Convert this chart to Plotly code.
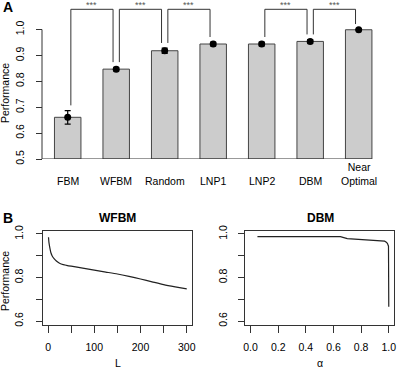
import plotly.graph_objects as go

W, H = 397, 368

# ---------------- data ----------------
categories = ["FBM", "WFBM", "Random", "LNP1", "LNP2", "DBM", "Near<br>Optimal"]
performance = [0.661, 0.847, 0.918, 0.944, 0.944, 0.954, 0.999]
errors = [0.026, 0.007, 0.010, 0.007, 0.007, 0.007, 0.002]
sig_pairs = [(0, 1), (1, 2), (2, 3), (4, 5), (5, 6)]
sig_labels = ["***", "***", "***", "***", "***"]
yticks_a = [0.5, 0.6, 0.7, 0.8, 0.9, 1.0]

wfbm_L = [1, 2, 4, 6, 9, 13, 18, 24, 30, 40, 50, 75, 100, 125, 150, 175, 200, 225, 250, 275, 300]
wfbm_perf = [0.985, 0.960, 0.935, 0.915, 0.899, 0.887, 0.876, 0.867, 0.861, 0.856, 0.852, 0.843,
             0.834, 0.825, 0.816, 0.805, 0.793, 0.780, 0.767, 0.757, 0.748]

dbm_alpha = [0.05, 0.1, 0.15, 0.2, 0.25, 0.3, 0.35, 0.4, 0.45, 0.5, 0.55, 0.6, 0.65, 0.7,
             0.75, 0.8, 0.85, 0.9, 0.95, 0.97, 0.98, 0.99, 0.998, 1.0]
dbm_perf = [0.988, 0.988, 0.988, 0.988, 0.988, 0.988, 0.988, 0.988, 0.988, 0.988, 0.988, 0.988,
            0.988, 0.979, 0.977, 0.976, 0.975, 0.973, 0.970, 0.967, 0.963, 0.957, 0.944, 0.665]

# ---------------- helpers ----------------
def px_x(p):
    return p / W

def px_y(p):
    return 1 - p / H

FONT = "Liberation Sans, Arial, sans-serif"
AX = "#333333"

fig = go.Figure()

# ---------------- Panel A ----------------
xs = list(range(len(categories)))
fig.add_trace(go.Bar(
    x=xs, y=[v - 0.5 for v in performance], base=0.5, width=0.546,
    marker=dict(color="#cccccc", line=dict(color="#444444", width=1)),
    xaxis="x", yaxis="y", showlegend=False, hoverinfo="skip"))
fig.add_trace(go.Scatter(
    x=xs, y=performance, mode="markers",
    marker=dict(color="black", size=7),
    error_y=dict(type="data", array=errors, color="black", thickness=1.2, width=3),
    xaxis="x", yaxis="y", showlegend=False))

shapes = []
annotations = []

# baseline and y axis line
shapes.append(dict(type="line", xref="x", yref="y", x0=-0.528, x1=6.273, y0=0.5, y1=0.5,
                   line=dict(color=AX, width=1)))
shapes.append(dict(type="line", xref="paper", yref="y", x0=px_x(42), x1=px_x(42),
                   y0=yticks_a[0], y1=yticks_a[-1], line=dict(color=AX, width=1)))

# significance brackets
top = 1.078
gap = 0.02
off = 0.065
for (a, b), lab in zip(sig_pairs, sig_labels):
    ya = performance[a] + errors[a] + gap
    yb = performance[b] + errors[b] + gap
    xa, xb = a + off, b - off
    shapes.append(dict(type="path", xref="x", yref="y",
                       path=f"M {xa},{ya} L {xa},{top} L {xb},{top} L {xb},{yb}",
                       line=dict(color=AX, width=1)))
    annotations.append(dict(x=(a + b) / 2, y=top, xref="x", yref="y", text=lab,
                            showarrow=False, yanchor="bottom", yshift=-3,
                            font=dict(family=FONT, size=9, color="#555555")))

# category labels
for i, c in enumerate(categories):
    annotations.append(dict(x=i, y=px_y(189), xref="x", yref="paper", text=c,
                            showarrow=False, yanchor="bottom",
                            font=dict(family=FONT, size=10.5, color="black")))

# ---------------- Panel B ----------------
fig.add_trace(go.Scatter(x=wfbm_L, y=wfbm_perf, mode="lines",
                         line=dict(color="#222222", width=1.2, shape="spline", smoothing=0.6),
                         xaxis="x2", yaxis="y2", showlegend=False))
fig.add_trace(go.Scatter(x=dbm_alpha, y=dbm_perf, mode="lines",
                         line=dict(color="#222222", width=1.2),
                         xaxis="x3", yaxis="y3", showlegend=False))

# text labels
def txt(x, y, s, size=10.5, bold=False, angle=0):
    annotations.append(dict(x=px_x(x), y=px_y(y), xref="paper", yref="paper",
                            text=f"<b>{s}</b>" if bold else s, showarrow=False,
                            textangle=angle, xanchor="center", yanchor="middle",
                            font=dict(family=FONT, size=size, color="black")))

txt(7.5, 7, "A", size=14, bold=True)
txt(8, 218, "B", size=14, bold=True)
txt(5, 93, "Performance", angle=-90)
txt(5, 281, "Performance", angle=-90)
txt(117.5, 218, "WFBM", size=12, bold=True)
txt(320, 218, "DBM", size=12, bold=True)
txt(117.5, 363, "L")
txt(320, 363, "α")

tickfont = dict(family=FONT, size=10.5, color="black")
yb_vals = [0.6, 0.7, 0.8, 0.9, 1.0]
yb_text = ["0.6", "", "0.8", "", "1.0"]

common = dict(showgrid=False, zeroline=False, automargin=False)

fig.update_layout(
    width=W, height=H, margin=dict(l=0, r=0, t=0, b=0, pad=0, autoexpand=False),
    paper_bgcolor="white", plot_bgcolor="white", showlegend=False,
    shapes=shapes, annotations=annotations,
    xaxis=dict(domain=[0, 1], range=[-1.396, 6.790], **common,
               showline=False, showticklabels=False, ticks="", anchor="y"),
    yaxis=dict(domain=[px_y(159), 1], range=[0.5, 1.1139], **common,
               showline=False, anchor="free", position=px_x(42), ticks="outside",
               ticklen=6, tickcolor=AX, tickvals=yticks_a,
               ticktext=[f"{v:.1f}" for v in yticks_a], tickangle=-90, tickfont=tickfont,
               ticklabelstandoff=8),
    xaxis2=dict(domain=[px_x(42.5), px_x(192.3)], range=[-12, 312], anchor="y2", **common,
                showline=True, mirror=True, linecolor=AX,
                linewidth=1, ticks="outside", ticklen=7, tickcolor=AX,
                tickvals=[0, 50, 100, 150, 200, 250, 300],
                ticktext=["0", "", "100", "", "200", "", "300"], tickfont=tickfont,
                ticklabelstandoff=6),
    yaxis2=dict(domain=[px_y(324.5), px_y(230.5)], range=[0.584, 1.016], anchor="x2", **common,
                showline=True, mirror=True, linecolor=AX,
                linewidth=1, ticks="outside", ticklen=6, tickcolor=AX,
                tickvals=yb_vals, ticktext=yb_text, tickangle=-90, tickfont=tickfont,
                ticklabelstandoff=8),
    xaxis3=dict(domain=[px_x(245), px_x(394.3)], range=[-0.04, 1.04], anchor="y3", **common,
                showline=True, mirror=True, linecolor=AX,
                linewidth=1, ticks="outside", ticklen=7, tickcolor=AX,
                tickvals=[0, 0.2, 0.4, 0.6, 0.8, 1.0],
                ticktext=["0.0", "0.2", "0.4", "0.6", "0.8", "1.0"], tickfont=tickfont,
                ticklabelstandoff=6),
    yaxis3=dict(domain=[px_y(324.5), px_y(230.5)], range=[0.584, 1.016], anchor="x3", **common,
                showline=True, mirror=True, linecolor=AX,
                linewidth=1, ticks="outside", ticklen=6, tickcolor=AX,
                tickvals=yb_vals, ticktext=yb_text, tickangle=-90, tickfont=tickfont,
                ticklabelstandoff=7),
)

fig.write_html("out.html", config={"displayModeBar": False},
               post_script="document.body.style.margin='0';document.body.style.padding='0';")
